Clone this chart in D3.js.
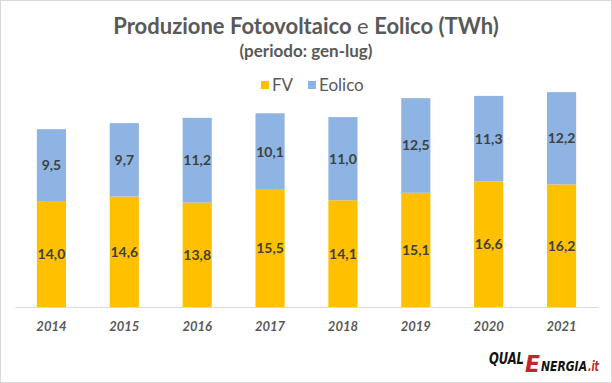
<!DOCTYPE html>
<html><head><meta charset="utf-8">
<script src="https://cdn.jsdelivr.net/npm/d3@7"></script>
<style>body{margin:0;background:#fff}</style>
</head><body>
<svg id="c" width="612" height="383"></svg>
<script>
const years = ["2014","2015","2016","2017","2018","2019","2020","2021"];
const fv = [14.0,14.6,13.8,15.5,14.1,15.1,16.6,16.2];
const eolico = [9.5,9.7,11.2,10.1,11.0,12.5,11.3,12.2];
const seriesNames = ["FV","Eolico"];
const colors = ["#FFC000","#8EB4E3"];

const svg = d3.select("#c");
const font = "Lato, 'Open Sans', sans-serif";
svg.append("rect").attr("x",0.5).attr("y",0.5).attr("width",611).attr("height",382)
  .attr("fill","#fff").attr("stroke","#d9d9d9");

const x = d3.scaleBand().domain(years).range([15,598]).paddingInner(0.6).paddingOuter(0.3);
const y = d3.scaleLinear().domain([0,30]).range([307,80]);

const data = years.map((yr,i)=>({year:yr, FV:fv[i], Eolico:eolico[i]}));
const stack = d3.stack().keys(seriesNames)(data);

const g = svg.append("g");
stack.forEach((s,si)=>{
  g.selectAll(null).data(s).enter().append("rect")
    .attr("x",d=>x(d.data.year)).attr("width",x.bandwidth())
    .attr("y",d=>y(d[1])).attr("height",d=>y(d[0])-y(d[1]))
    .attr("fill",colors[si]);
  g.selectAll(null).data(s).enter().append("text")
    .attr("x",d=>x(d.data.year)+x.bandwidth()/2)
    .attr("y",d=>(y(d[0])+y(d[1]))/2+5)
    .attr("text-anchor","middle").attr("font-family",font).attr("font-weight","bold")
    .attr("font-size",14).attr("fill","#404040")
    .text(d=>d3.format(".1f")(d[1]-d[0]).replace(".",","));
});

const xAxis = svg.append("g").attr("transform","translate(0,307)")
  .call(d3.axisBottom(x).tickSize(0).tickPadding(15));
xAxis.select(".domain").attr("stroke","#d9d9d9");
xAxis.selectAll("text").attr("font-family",font).attr("font-size",13)
  .attr("font-style","italic").attr("font-weight","bold").attr("fill","#595959");

// title
const t = svg.append("text").attr("x",306).attr("y",34).attr("text-anchor","middle")
  .attr("font-family",font).attr("font-size",22).attr("fill","#595959");
t.append("tspan").attr("font-weight","bold").text("Produzione Fotovoltaico ");
t.append("tspan").attr("font-weight","normal").text("e ");
t.append("tspan").attr("font-weight","bold").text("Eolico (TWh)");
svg.append("text").attr("x",306).attr("y",57).attr("text-anchor","middle")
  .attr("font-family",font).attr("font-size",17).attr("font-weight","bold")
  .attr("fill","#595959").text("(periodo: gen-lug)");

// legend
const leg = [{n:"FV",x:261},{n:"Eolico",x:308}];
leg.forEach((l,i)=>{
  svg.append("rect").attr("x",l.x).attr("y",81).attr("width",8).attr("height",8).attr("fill",colors[i]);
  svg.append("text").attr("x",l.x+11).attr("y",91).attr("font-family",font)
    .attr("font-size",17).attr("fill","#595959").text(l.n);
});

// logo (letters touch as in the original logo)
const lf = "'DejaVu Sans Condensed',sans-serif";
const logo = svg.append("text").attr("font-family",lf).attr("font-weight","bold")
  .attr("font-style","italic");
[["QUAL",489,364,35,15,"#111"],["E",525,372,15,23,"#c0272d"],
 ["NERGIA",541,371,46,14,"#111"],[".it",588,371,11,14,"#c0272d"]].forEach(p=>{
  logo.append("tspan").attr("x",p[1]).attr("y",p[2]).attr("textLength",p[3])
    .attr("lengthAdjust","spacingAndGlyphs")
    .attr("font-size",p[4]).attr("fill",p[5]).text(p[0]);
});
</script>
</body></html>
